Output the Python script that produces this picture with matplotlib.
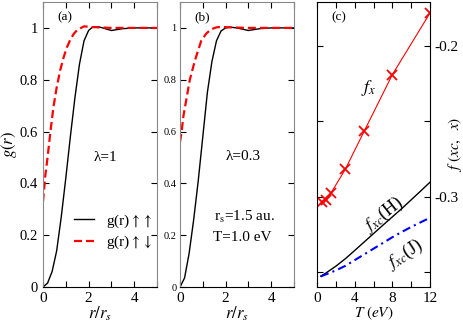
import numpy as np
import matplotlib
matplotlib.use('Agg')
import matplotlib.pyplot as plt

plt.rcParams['font.family'] = ['Liberation Serif', 'DejaVu Serif']
plt.rcParams['mathtext.fontset'] = 'stix'

# panel (a), lambda = 1
r_a_uu = [0, 0.2, 0.4, 0.6, 0.8, 1.0, 1.2, 1.4, 1.6, 1.8, 2.0, 2.2, 2.5, 3.0, 3.5, 4.0, 5.0]
g_a_uu = [0, 0.015, 0.06, 0.14, 0.27, 0.42, 0.58, 0.73, 0.86, 0.95, 0.99, 1.005, 1.003, 0.99, 0.997, 1.0, 1.0]
r_a_ud = [0, 0.1, 0.2, 0.3, 0.45, 0.6, 0.75, 0.9, 1.05, 1.2, 1.35, 1.5, 1.8, 2.2, 3.0, 5.0]
g_a_ud = [0.33, 0.43, 0.5, 0.58, 0.69, 0.77, 0.835, 0.885, 0.925, 0.955, 0.977, 0.992, 1.006, 1.003, 1.0, 1.0]

# panel (b), lambda = 0.3
r_b_uu = [0, 0.2, 0.4, 0.6, 0.8, 1.0, 1.2, 1.4, 1.6, 1.8, 2.0, 2.2, 2.5, 3.0, 3.5, 4.0, 5.0]
g_b_uu = [0, 0.035, 0.13, 0.26, 0.41, 0.58, 0.75, 0.87, 0.95, 0.988, 1.0, 1.003, 1.0, 0.99, 0.997, 1.0, 1.0]
r_b_ud = [0, 0.07, 0.15, 0.29, 0.43, 0.65, 0.93, 1.15, 1.37, 1.6, 1.8, 2.2, 3.0, 5.0]
g_b_ud = [0.56, 0.6, 0.66, 0.73, 0.8, 0.873, 0.95, 0.978, 0.995, 1.002, 1.004, 1.002, 1.0, 1.0]

# panel (c)
T_fx = [0.5, 1.0, 1.5, 3, 5, 8, 12]
fx = [-0.3038, -0.302, -0.2975, -0.282, -0.2568, -0.2192, -0.1783]
T_fxc = [0.4, 1, 2, 3, 4, 5, 6, 7, 8, 9, 10, 11, 12]
fxc_H = [-0.3528, -0.3505, -0.3462, -0.3413, -0.3358, -0.3302, -0.3246, -0.3190, -0.3135, -0.3080, -0.3022, -0.2964, -0.2905]
fxc_J = [-0.353, -0.3515, -0.349, -0.3460, -0.3422, -0.3384, -0.3346, -0.3308, -0.3270, -0.3235, -0.3202, -0.3171, -0.3141]

fig = plt.figure(figsize=(4.63, 3.27), dpi=100)
ax_a = fig.add_axes([0.0929, 0.1223, 0.246, 0.8716])
ax_b = fig.add_axes([0.3888, 0.1223, 0.246, 0.8716])
ax_c = fig.add_axes([0.6847, 0.1223, 0.244, 0.8716])


def gr_frame(ax, ysize):
    ax.set_xlim(0, 5)
    ax.set_ylim(0, 1.1)
    ax.set_xticks([0, 2, 4])
    ax.set_xticks([1, 3, 5], minor=True)
    ax.set_yticks([0, 0.2, 0.4, 0.6, 0.8, 1.0])
    ax.set_yticklabels(['0', '0.2', '0.4', '0.6', '0.8', '1'], fontsize=ysize)
    ax.tick_params(axis='x', labelsize=11)
    ax.tick_params(which='both', direction='in', top=True, right=True, length=4, width=0.8)
    for s in ['left', 'right', 'top']:
        ax.spines[s].set_color('#888888')
    ax.set_xlabel(r'$r/r_s$', fontsize=12, labelpad=0)


ax_a.plot(r_a_uu, g_a_uu, color='black', lw=1.0, label=r'g(r)$\uparrow\uparrow$')
ax_a.plot(r_a_ud, g_a_ud, color='red', lw=1.6, dashes=(3.6, 1.8), label=r'g(r)$\uparrow\downarrow$')
gr_frame(ax_a, 10.5)
ax_a.set_ylabel(r'$g(r)$', fontsize=12)
ax_a.yaxis.set_label_coords(-0.215, 0.5)
ax_a.text(0.13, 0.948, '(a)', transform=ax_a.transAxes, fontsize=9.5, va='center')
ax_a.text(0.55, 0.456, 'λ=1', transform=ax_a.transAxes, fontsize=11, ha='center', va='center')
ax_a.legend(loc='upper left', bbox_to_anchor=(0.18, 0.3), frameon=False, fontsize=11,
            handlelength=1.3, handletextpad=0.8, labelspacing=0.3, borderpad=0.2)

ax_b.plot(r_b_uu, g_b_uu, color='black', lw=1.0)
ax_b.plot(r_b_ud, g_b_ud, color='red', lw=1.6, dashes=(3.6, 1.8))
gr_frame(ax_b, 7.5)
ax_b.tick_params(axis='y', pad=2.5)
ax_b.text(0.13, 0.948, '(b)', transform=ax_b.transAxes, fontsize=9.5, va='center')
ax_b.text(0.555, 0.457, 'λ=0.3', transform=ax_b.transAxes, fontsize=11, ha='center', va='center')
ax_b.text(0.30, 0.245, r'r$_\mathrm{s}$=1.5 au.', transform=ax_b.transAxes, fontsize=11, va='center')
ax_b.text(0.29, 0.172, 'T=1.0 eV', transform=ax_b.transAxes, fontsize=11, va='center')

ax_c.plot(T_fx, fx, color='red', lw=0.8, marker='x', ms=7, mew=1.3)
ax_c.plot(T_fxc, fxc_H, color='black', lw=1.0)
ax_c.plot(T_fxc, fxc_J, color='blue', lw=1.5, dashes=(4, 2, 1, 2))
ax_c.set_xlim(0, 12)
ax_c.set_ylim(-0.36, -0.171)
ax_c.set_xticks([0, 4, 8, 12])
ax_c.set_xticks([2, 6, 10], minor=True)
ax_c.set_yticks([-0.35, -0.3, -0.25, -0.2])
ax_c.set_yticklabels(['', '-0.3', '', '-0.2'])
ax_c.tick_params(which='both', direction='in', top=True, left=True, right=True,
                 labelleft=False, labelright=True, length=4, width=0.8, labelsize=11)
ax_c.set_ylabel(r'$f\ (xc,\ \ x)$', fontsize=11, rotation=90)
ax_c.yaxis.set_label_position('right')
ax_c.yaxis.set_label_coords(1.14, 0.5)
ax_c.set_xlabel(r'$T\ (eV)$', fontsize=11, labelpad=0)
ax_c.text(0.13, 0.948, '(c)', transform=ax_c.transAxes, fontsize=9.5, va='center')
ax_c.text(5.45, -0.228, r'$f_x$', fontsize=13, ha='center', va='center')
ax_c.text(7.05, -0.312, r'$f_{xc}$(H)', fontsize=13, ha='center', va='center', rotation=38)
ax_c.text(9.3, -0.338, r'$f_{xc}$(J)', fontsize=13, ha='center', va='center', rotation=33)

fig.savefig('out.png', dpi=100)
